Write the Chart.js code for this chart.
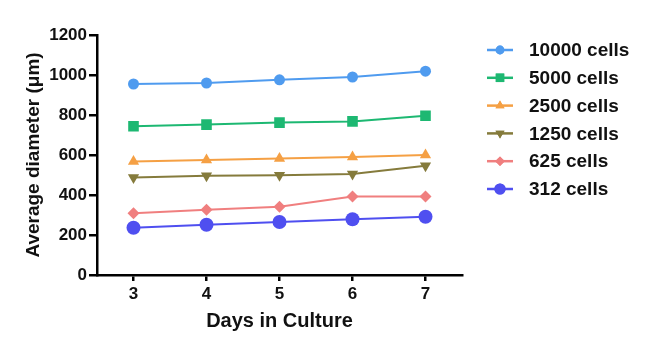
<!DOCTYPE html>
<html>
<head>
<meta charset="UTF-8">
<title>index.html</title>
<script src="https://cdn.jsdelivr.net/npm/chart.js"></script>
<style>
  body { margin: 0; background: #fff; }
</style>
</head>
<body>
<canvas id="lineChart" width="648" height="350"></canvas>

<script>
    // data
    const days = ['3', '4', '5', '6', '7'];
    const seriesNames = ['10000 cells', '5000 cells', '2500 cells', '1250 cells', '625 cells', '312 cells'];
    const cells10000 = [955, 960, 976, 990, 1019];
    const cells5000 = [744, 752, 762, 768, 796];
    const cells2500 = [567, 575, 582, 590, 600];
    const cells1250 = [487, 496, 499, 505, 546];
    const cells625 = [309, 326, 341, 392, 392];
    const cells312 = [236, 251, 265, 279, 291];
    const yTicks = [0, 200, 400, 600, 800, 1000, 1200];

    const colors = ['#4f9bef', '#1db872', '#f5a044', '#857b3c', '#f07f7f', '#4f4ff0'];
    const styles = ['circle', 'rect', 'triangle', 'triangle', 'rectRot', 'circle'];
    const rotations = [0, 0, 0, 180, 0, 0];
    const radii = [5.5, 7.5, 6.5, 6.5, 6, 7];
    const values = [cells10000, cells5000, cells2500, cells1250, cells625, cells312];

    const datasets = values.map(function(v, i) {
        return {
            label: seriesNames[i],
            data: v,
            borderColor: colors[i],
            backgroundColor: colors[i],
            borderWidth: 2,
            pointStyle: styles[i],
            rotation: rotations[i],
            pointRadius: radii[i],
            pointBorderWidth: 0,
            pointHoverRadius: radii[i],
            tension: 0
        };
    });

    // legend with a line through each marker, to the right of the plot
    const sideLegend = {
        id: 'sideLegend',
        afterDraw: function(chart) {
            const ctx = chart.ctx;
            ctx.save();
            chart.data.datasets.forEach(function(ds, i) {
                const y = 50 + i * 27.8;
                ctx.strokeStyle = ds.borderColor;
                ctx.lineWidth = 2.5;
                ctx.beginPath();
                ctx.moveTo(487, y);
                ctx.lineTo(513, y);
                ctx.stroke();
                ctx.fillStyle = ds.backgroundColor;
                Chart.helpers.drawPoint(ctx, {
                    pointStyle: ds.pointStyle,
                    rotation: ds.rotation,
                    radius: ds.pointRadius * 0.8,
                    borderWidth: 0
                }, 500, y);
                ctx.fill();
                ctx.fillStyle = '#111';
                ctx.font = 'bold 19px "Liberation Sans", Arial, sans-serif';
                ctx.textBaseline = 'middle';
                ctx.textAlign = 'left';
                ctx.fillText(ds.label, 529, y + 1);
            });
            ctx.restore();
        }
    };

    const tickFont = { family: '"Liberation Sans", Arial, sans-serif', size: 17, weight: 'bold' };
    const titleFont = { family: '"Liberation Sans", Arial, sans-serif', size: 20, weight: 'bold' };
    const yTitleFont = { family: '"Liberation Sans", Arial, sans-serif', size: 19, weight: 'bold' };

    new Chart(document.getElementById('lineChart'), {
        type: 'line',
        data: { labels: days, datasets: datasets },
        plugins: [sideLegend],
        options: {
            responsive: false,
            animation: false,
            layout: { padding: { top: 35, right: 186, bottom: 0, left: 0 } },
            plugins: {
                legend: { display: false },
                tooltip: { enabled: false }
            },
            scales: {
                x: {
                    type: 'category',
                    offset: true,
                    border: { color: '#000', width: 2.5 },
                    grid: { offset: false, drawOnChartArea: false, color: '#000', lineWidth: 2.5, tickLength: 6 },
                    ticks: { color: '#111', font: tickFont, padding: 3, maxRotation: 0 },
                    title: { display: true, text: 'Days in Culture', color: '#111', font: titleFont, padding: { top: 0, bottom: 17 } },
                    afterFit: function(scale) { scale.height = 75; }
                },
                y: {
                    min: 0,
                    max: 1200,
                    border: { color: '#000', width: 2.5 },
                    grid: { drawOnChartArea: false, color: '#000', lineWidth: 2.5, tickLength: 8 },
                    afterBuildTicks: function(scale) {
                        scale.ticks = yTicks.map(function(v) { return { value: v }; });
                    },
                    ticks: {
                        color: '#111', font: tickFont, padding: 2,
                        callback: function(value) { return String(value); }
                    },
                    title: { display: true, text: 'Average diameter (μm)', color: '#111', font: yTitleFont, padding: { top: 22, bottom: 0 } },
                    afterFit: function(scale) { scale.width = 97; }
                }
            }
        }
    });
</script>
</body>
</html>
